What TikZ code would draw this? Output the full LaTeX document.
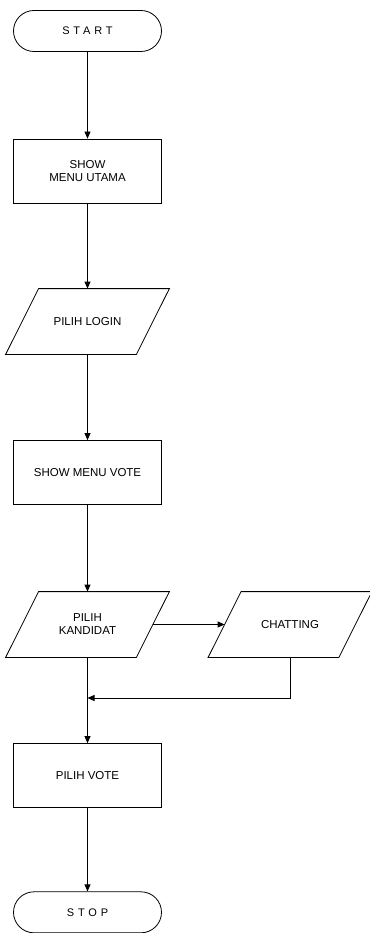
\documentclass[tikz,border=0pt]{standalone}
\usepackage{fontspec}
\setmainfont{Liberation Sans}
\usetikzlibrary{arrows.meta,calc}
\begin{document}
\begin{tikzpicture}[x=1pt,y=-1pt,
  line width=0.8pt,
  every node/.style={font=\fontsize{11.5}{13}\selectfont},
  term/.style={draw,rounded corners=20.5pt,minimum width=148pt,minimum height=41pt,inner sep=0pt,font=\fontsize{11}{13}\selectfont\addfontfeatures{LetterSpace=35}},
  proc/.style={draw,minimum width=148pt,minimum height=64pt,inner sep=0pt,align=center},
  io/.style={minimum width=130pt,minimum height=65pt,inner sep=0pt,align=center},
  arr/.style={-{Triangle[length=7pt,width=6pt]}}]
\useasboundingbox (0,0) rectangle (369,933);
\node[term] (start) at (87.5,31) {START};
\node[proc] (menu) at (87.5,171) {SHOW\\MENU UTAMA};
\node[io] (login) at (87.5,321.5) {PILIH LOGIN};
\node[proc] (vote) at (87.5,472.5) {SHOW MENU VOTE};
\node[io] (kand) at (87.5,624.5) {PILIH\\KANDIDAT};
\node[io] (chat) at (290,624.5) {CHATTING};
\node[proc] (pvote) at (87.5,775.5) {PILIH VOTE};
\node[term] (stop) at (87.5,912.3) {STOP};
\foreach \n in {login,kand,chat}{
  \draw ($(\n.north west)+(16.5,0)$) -- ($(\n.north east)+(16.5,0)$)
     -- ($(\n.south east)+(-16.5,0)$) -- ($(\n.south west)+(-16.5,0)$) -- cycle;
}
\coordinate (j) at (87.5,698);
\draw[arr] (start) -- (menu);
\draw[arr] (menu) -- (login);
\draw[arr] (login) -- (vote);
\draw[arr] (vote) -- (kand);
\draw[arr] (kand.east) -- (chat.west);
\draw[arr] (chat.south) |- (j);
\draw[arr] (kand.south) -- (pvote.north);
\draw[arr] (pvote) -- (stop);
\end{tikzpicture}
\end{document}
